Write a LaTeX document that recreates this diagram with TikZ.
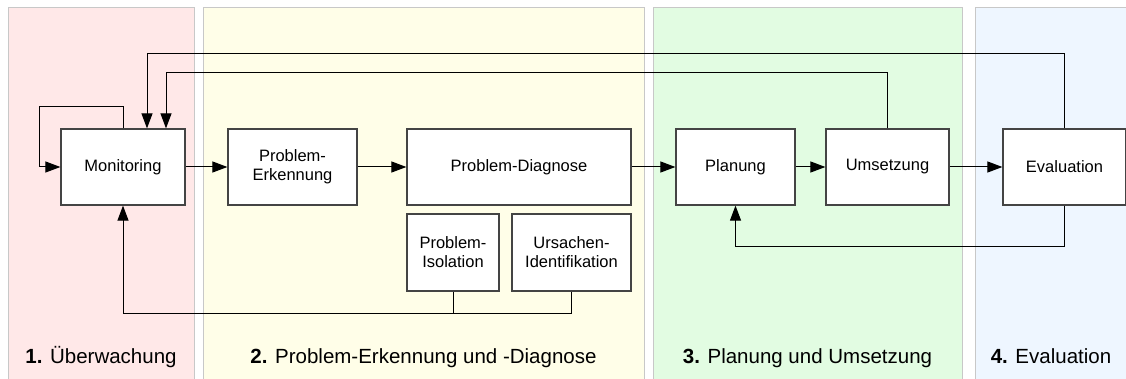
\documentclass[tikz,border=0pt]{standalone}
\usepackage{fontspec}
\setmainfont{Liberation Sans}
\usetikzlibrary{arrows.meta}
\definecolor{panelred}{HTML}{FFE8E8}
\definecolor{panelyellow}{HTML}{FFFEE8}
\definecolor{panelgreen}{HTML}{E2FCE2}
\definecolor{panelblue}{HTML}{EEF6FF}
\definecolor{panelrule}{HTML}{C8C8C8}
\definecolor{boxrule}{HTML}{444444}
\begin{document}
\begin{tikzpicture}[x=1pt,y=-1pt,
  panel/.style={draw=panelrule,line width=1pt},
  box/.style={draw=boxrule,fill=white,line width=1.2pt,align=center,inner sep=0pt,
    font=\fontsize{16.5}{19}\selectfont},
  phase/.style={font=\fontsize{20.5}{24}\selectfont,anchor=base},
  link/.style={draw=black,line width=1pt},
  arr/.style={link,-{Triangle[length=15pt,width=11pt]}}]
\useasboundingbox (0,0) rectangle (1126,379);

% phase panels
\path[panel,fill=panelred]    (8,8)   rectangle (194,390);
\path[panel,fill=panelyellow] (203,8) rectangle (644,390);
\path[panel,fill=panelgreen]  (653,8) rectangle (962,390);
\path[panel,fill=panelblue]   (975,8) rectangle (1135,390);

% phase titles
\node[phase] (t1) at (101,363)   {\textbf{1.} Überwachung};
\node[phase] (t2) at (423.5,363) {\textbf{2.} Problem-Erkennung und -Diagnose};
\node[phase] (t3) at (807.5,363) {\textbf{3.} Planung und Umsetzung};
\node[phase] (t4) at (1051,363)  {\textbf{4.} Evaluation};

% process steps
\node[box,minimum width=124pt,minimum height=76pt] (mon)  at (123,167)    {Monitoring};
\node[box,minimum width=129pt,minimum height=76pt] (erk)  at (292.5,167)  {Problem-\\Erkennung};
\node[box,minimum width=224pt,minimum height=76pt] (diag) at (519,167)    {Problem-Diagnose};
\node[box,minimum width=92pt,minimum height=77pt]  (iso)  at (453,252.5)  {Problem-\\Isolation};
\node[box,minimum width=119pt,minimum height=77pt] (urs)  at (571.5,252.5){Ursachen-\\Identifikation};
\node[box,minimum width=119pt,minimum height=76pt] (plan) at (735.5,167)  {Planung};
\node[box,minimum width=123pt,minimum height=76pt] (ums)  at (887.5,167)  {Umsetzung};
\node[box,minimum width=123pt,minimum height=76pt] (eval) at (1064.5,167) {Evaluation};

% routing points
\coordinate (loop)  at (39,107);
\coordinate (topA)  at (147,54);
\coordinate (topB)  at (166,73);
\coordinate (back)  at (735.5,247);
\coordinate (busL)  at (123,313);

% main flow
\draw[arr] (mon) -- (erk);
\draw[arr] (erk) -- (diag);
\draw[arr] (diag) -- (plan);
\draw[arr] (plan) -- (ums);
\draw[arr] (ums) -- (eval);

% feedback loops
\draw[arr] (mon.north) |- (loop) |- (mon.west);
\draw[arr] (eval.north) |- (topA) -- (topA |- mon.north);
\draw[arr] (ums.north) |- (topB) -- (topB |- mon.north);
\draw[arr] (eval.south) |- (back) -- (plan.south);
\draw[link] (iso.south) -- (iso.south |- busL);
\draw[arr] (urs.south) |- (busL) -- (mon.south);
\end{tikzpicture}
\end{document}
